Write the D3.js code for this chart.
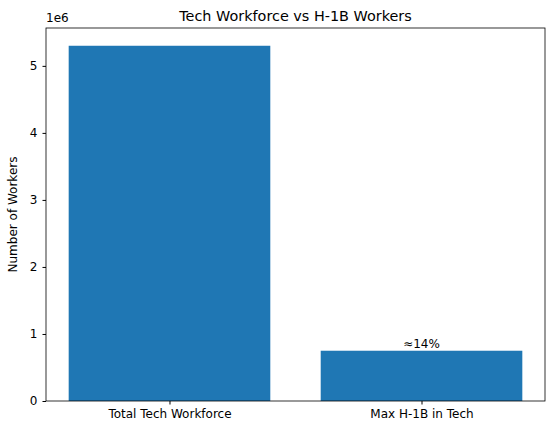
<!DOCTYPE html>
<html lang="en">
<head>
<meta charset="UTF-8">
<script src="https://d3js.org/d3.v7.min.js"></script>
<style>
  body { margin: 0; background: #fff; }
  text { font-family: "DejaVu Sans", sans-serif; }
</style>
</head>
<body>
<svg id="chart" width="554" height="435"></svg>
<script>
    // chart data
    const categories = ["Total Tech Workforce", "Max H-1B in Tech"];
    const workers = [5300000, 750000];
    const barLabels = ["", "≈14%"];
    const yTicks = [0, 1, 2, 3, 4, 5];

    const svg = d3.select("#chart");
    const margin = { top: 28, right: 9, bottom: 34, left: 46 };
    const width = 554 - margin.left - margin.right;
    const height = 435 - margin.top - margin.bottom;
    const g = svg.append("g").attr("transform", `translate(${margin.left},${margin.top})`);

    // matplotlib-like x limits: bars width 0.8, 5% margins
    const x = d3.scaleLinear().domain([-0.49, 1.49]).range([0, width]);
    const y = d3.scaleLinear().domain([0, 5300000 * 1.05]).range([height, 0]);

    g.selectAll("rect")
        .data(workers)
        .enter()
        .append("rect")
        .attr("x", (d, i) => x(i - 0.4))
        .attr("width", x(0.8) - x(0))
        .attr("y", d => y(d))
        .attr("height", d => height - y(d))
        .attr("fill", "#1f77b4");

    g.selectAll(".lbl")
        .data(workers)
        .enter()
        .append("text")
        .attr("x", (d, i) => x(i))
        .attr("y", d => y(d) - 3)
        .attr("text-anchor", "middle")
        .attr("font-size", "12px")
        .text((d, i) => barLabels[i]);

    // y axis
    const yAxis = g.append("g")
        .call(d3.axisLeft(y).tickValues(yTicks.map(t => t * 1e6)).tickFormat((d, i) => yTicks[i]).tickSize(3.5).tickPadding(5));
    yAxis.selectAll("text").attr("font-size", "12px").attr("fill", "#000");

    // x axis
    const xAxis = g.append("g")
        .attr("transform", `translate(0,${height})`)
        .call(d3.axisBottom(x).tickValues([0, 1]).tickFormat((d, i) => categories[i]).tickSize(3.5).tickPadding(5));
    xAxis.selectAll("text").attr("font-size", "12px").attr("fill", "#000");

    // frame
    g.append("rect").attr("width", width).attr("height", height)
        .attr("fill", "none").attr("stroke", "#000").attr("stroke-width", 0.8);
    g.selectAll(".domain").remove();

    svg.append("text").attr("x", margin.left).attr("y", margin.top - 6)
        .attr("font-size", "12px").text("1e6");

    svg.append("text")
        .attr("x", margin.left + width / 2).attr("y", margin.top - 7)
        .attr("text-anchor", "middle").attr("font-size", "14.4px")
        .text("Tech Workforce vs H-1B Workers");

    svg.append("text")
        .attr("transform", "rotate(-90)")
        .attr("x", -(margin.top + height / 2)).attr("y", 17)
        .attr("text-anchor", "middle").attr("font-size", "12px")
        .text("Number of Workers");
</script>
</body>
</html>
